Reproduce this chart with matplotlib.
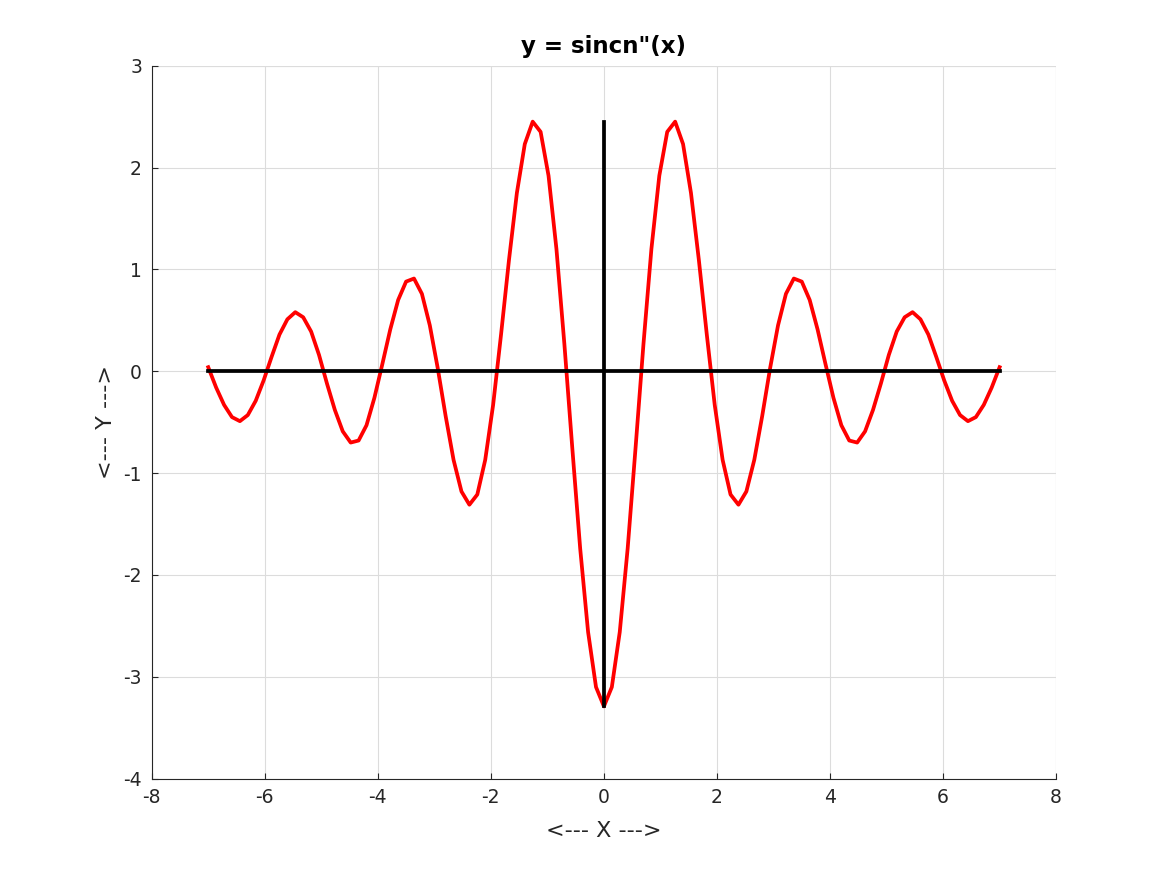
import matplotlib
matplotlib.use("Agg")
import matplotlib.pyplot as plt

plt.rcParams['axes.unicode_minus'] = False

# sample points (step 0.14 from -7 to 7)
x_right = [0.00, 0.14, 0.28, 0.42, 0.56, 0.70, 0.84, 0.98, 1.12, 1.26,
           1.40, 1.54, 1.68, 1.82, 1.96, 2.10, 2.24, 2.38, 2.52, 2.66,
           2.80, 2.94, 3.08, 3.22, 3.36, 3.50, 3.64, 3.78, 3.92, 4.06,
           4.20, 4.34, 4.48, 4.62, 4.76, 4.90, 5.04, 5.18, 5.32, 5.46,
           5.60, 5.74, 5.88, 6.02, 6.16, 6.30, 6.44, 6.58, 6.72, 6.86,
           7.00]
y_right = [-3.29, -3.10, -2.56, -1.74, -0.75, 0.27, 1.20, 1.92, 2.35, 2.45,
           2.23, 1.75, 1.09, 0.36, -0.33, -0.87, -1.21, -1.31, -1.18, -0.87,
           -0.44, 0.03, 0.45, 0.76, 0.91, 0.88, 0.70, 0.41, 0.07, -0.26,
           -0.53, -0.68, -0.70, -0.59, -0.38, -0.12, 0.16, 0.39, 0.53, 0.58,
           0.51, 0.36, 0.14, -0.09, -0.29, -0.43, -0.49, -0.45, -0.33, -0.16,
           0.04]

# curve is even, so the left half mirrors the right
x = [-v for v in x_right[:0:-1]] + x_right
y = y_right[:0:-1] + y_right

xticks = [-8, -6, -4, -2, 0, 2, 4, 6, 8]
yticks = [-4, -3, -2, -1, 0, 1, 2, 3]

fig = plt.figure(figsize=(11.67, 8.75), dpi=100)
ax = fig.add_axes([0.13, 0.11, 0.775, 0.815])

ax.plot(x, y, color='red', lw=2.7)
ax.plot([min(x), max(x)], [0, 0], color='black', lw=2.7)
ax.plot([0, 0], [min(y), max(y)], color='black', lw=2.7)

ax.set_xlim(-8, 8)
ax.set_ylim(-4, 3)
ax.set_xticks(xticks)
ax.set_yticks(yticks)
ax.grid(True, color='#dcdcdc', lw=0.8)
ax.set_axisbelow(True)

for s in ['top', 'right']:
    ax.spines[s].set_visible(False)
for s in ['left', 'bottom']:
    ax.spines[s].set_color('#262626')
    ax.spines[s].set_linewidth(0.8)
ax.tick_params(direction='in', length=4, colors='#262626', labelsize=13.5, pad=7)

# light edge lines on the open sides, like the grid
ax.axhline(3, color='#dcdcdc', lw=0.8, zorder=0)
ax.axvline(8, color='#dcdcdc', lw=0.8, zorder=0)

ax.set_xlabel('<--- X --->', fontsize=16, color='#262626', labelpad=10)
ax.set_ylabel('<--- Y --->', fontsize=16, color='#262626', labelpad=5)
ax.set_title('y = sincn"(x)', fontsize=16.5, fontweight='bold', pad=9)

fig.savefig('out.png', dpi=100)
